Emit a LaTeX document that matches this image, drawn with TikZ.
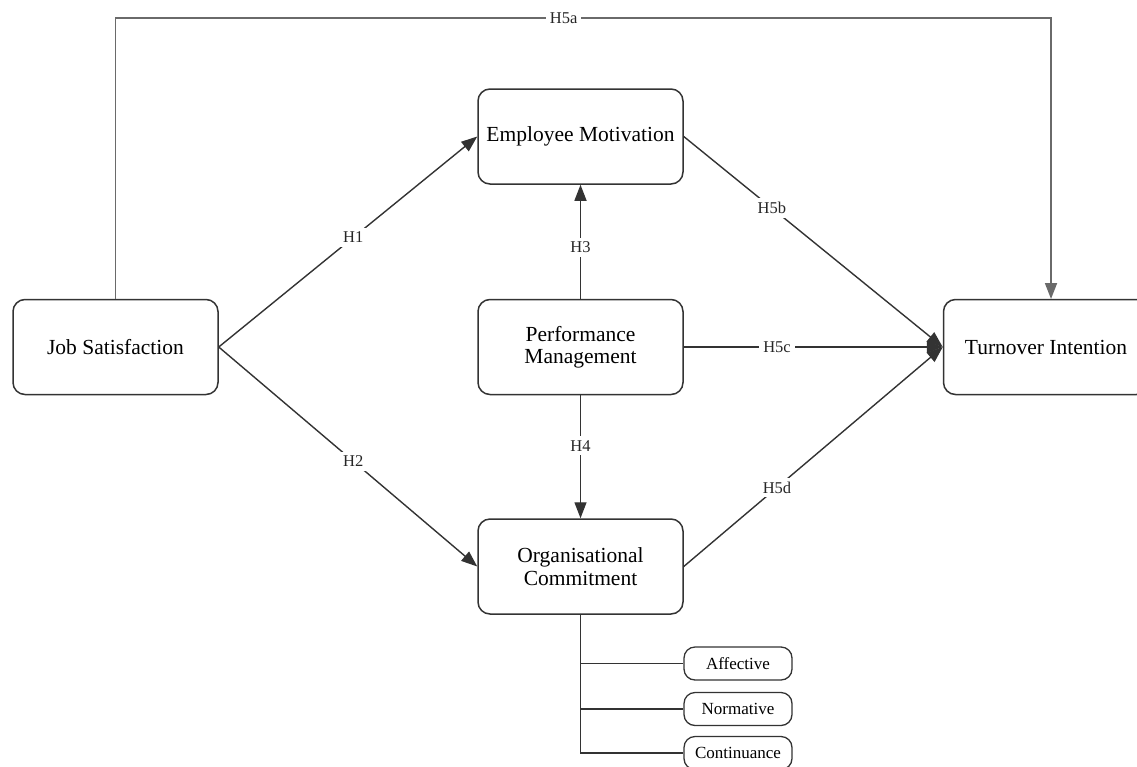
\documentclass[tikz,border=0pt]{standalone}
\usepackage{fontspec}
\setmainfont{Liberation Serif}
\usetikzlibrary{arrows.meta}
\definecolor{linec}{HTML}{333333}
\definecolor{grayline}{HTML}{6A6A6A}
\tikzset{
  box/.style={draw=linec, line width=1.5pt, rounded corners=12pt, minimum width=205pt, minimum height=95pt, align=center, inner sep=2pt, font=\fontsize{21.5}{22.5}\selectfont},
  sbox/.style={draw=linec, line width=1.3pt, rounded corners=11pt, minimum width=108pt, minimum height=33pt, inner sep=1pt, font=\fontsize{17}{18}\selectfont},
  conn/.style={draw=linec, line width=1.4pt},
  arr/.style={conn, -{Triangle[length=16pt,width=12pt]}},
  lab/.style={fill=white, inner sep=4pt, font=\fontsize{16.5}{17}\selectfont, text=black!85}
}
\begin{document}
\begin{tikzpicture}[x=1pt,y=-1pt]
\useasboundingbox (0,0) rectangle (1137,766);
\node[box] (js) at (115.5,347) {Job Satisfaction};
\node[box] (em) at (580.5,136.5) {Employee Motivation};
\node[box] (pm) at (580.5,347) {Performance\\Management};
\node[box] (oc) at (580.5,566.5) {Organisational\\Commitment};
\node[box] (ti) at (1046,347) {Turnover Intention};
\node[sbox] (af) at (738,663.5) {Affective};
\node[sbox] (no) at (738,709) {Normative};
\node[sbox] (co) at (738,753) {Continuance};
\coordinate (ta) at (js.north |- 0,18);
\coordinate (tb) at (1051,18);
\coordinate (tiTop) at (1051,299);
\draw[conn, draw=grayline, line width=1.8pt, -{Triangle[length=16pt,width=12pt]}] (js.north) -- (ta) -- node[lab, pos=0.479] {H5a} (tb) -- (tiTop);
\draw[arr] (js.east) -- node[lab, pos=0.52] {H1} (em.west);
\draw[arr] (js.east) -- node[lab, pos=0.52] {H2} (oc.west);
\draw[arr] (pm.north) -- node[lab, pos=0.45] {H3} (em.south);
\draw[arr] (pm.south) -- node[lab, pos=0.41] {H4} (oc.south |- oc.north);
\draw[arr] (em.east) -- node[lab, pos=0.34] {H5b} (ti.west);
\draw[arr] (pm.east) -- node[lab, pos=0.36] {H5c} (ti.west);
\draw[arr] (oc.east) -- node[lab, pos=0.36] {H5d} (ti.west);
\coordinate (vb) at (oc.south |- co.west);
\draw[conn] (oc.south) -- (vb) -- (co.west);
\draw[conn] (oc.south |- af.west) -- (af.west);
\draw[conn] (oc.south |- no.west) -- (no.west);
\end{tikzpicture}
\end{document}
